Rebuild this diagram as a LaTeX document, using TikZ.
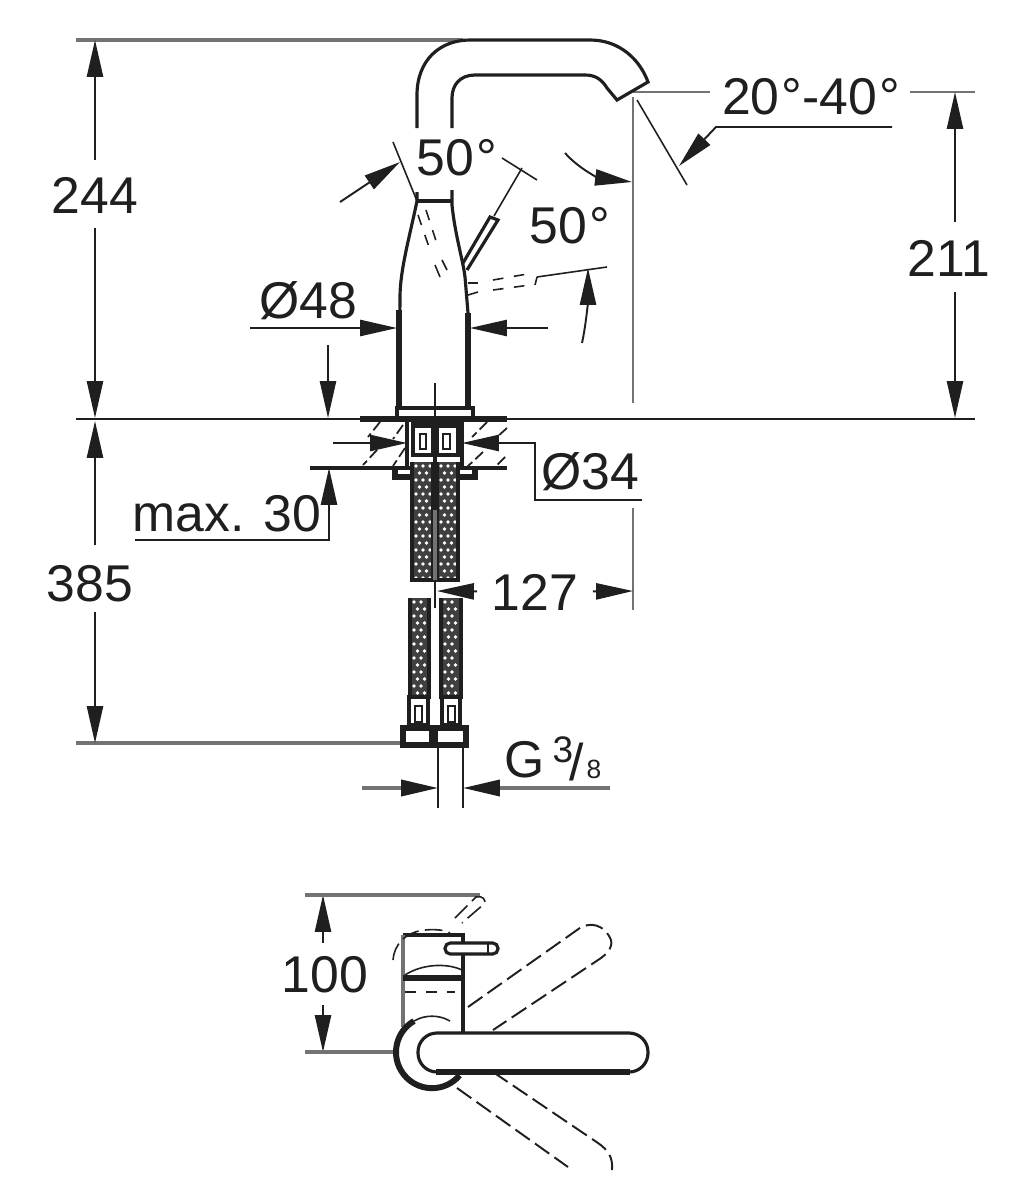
\documentclass[tikz,border=0pt]{standalone}
\usepackage{fontspec}
\setmainfont{Liberation Sans}
\usetikzlibrary{arrows.meta,calc}
\definecolor{inkdark}{gray}{0.12}
\definecolor{dimgray}{gray}{0.45}
\tikzset{
  dimtext/.style={inner sep=4pt,text=inkdark,font=\fontsize{14.7}{18}\selectfont},
  dimline/.style={line width=0.55pt,dimgray},
  dimarrow/.style={line width=0.55pt,inkdark,-{Stealth[inset=0pt,length=10.5pt,width=4.6pt,inkdark]}},
  outline/.style={line width=0.9pt,inkdark},
  thickline/.style={line width=1.5pt,inkdark},
  thinline/.style={line width=0.45pt,inkdark},
  ghost/.style={line width=0.55pt,inkdark,dash pattern=on 5pt off 1.8pt},
  hatch/.style={line width=0.5pt,inkdark,dash pattern=on 3pt off 1.2pt}
}
\newcommand{\degsign}{\kern0.6pt°}
% braided hose: dark strip with rows of white dots
\newcommand{\hosebraid}[4]{%
  \fill[inkdark!85] (#1,#2) rectangle (#3,#4);
  \pgfmathsetmacro{\hosewidth}{#3-#1}
  \pgfmathtruncatemacro{\hoserows}{(#4-#2-5)/7}
  \pgfmathtruncatemacro{\hosecols}{(\hosewidth-7)/7}
  \foreach \r in {0,...,\hoserows}{
    \foreach \c in {0,...,\hosecols}{
      \pgfmathsetmacro{\dotx}{#1+4+\c*7+mod(\r,2)*3.5}
      \pgfmathsetmacro{\doty}{#2+4+\r*7}
      \fill[white] (\dotx,\doty) circle (1.9);
    }
  }
  \draw[outline] (#1,#2)--(#1,#4)--(#3,#4)--(#3,#2);
}
\begin{document}
\begin{tikzpicture}[x=0.01cm,y=-0.01cm]
  \useasboundingbox (0,0) rectangle (1031,1200);

  % labels
  \node[dimtext] (t244) at (95,195) {244};
  \node[dimtext] (t385) at (90,584) {385};
  \node[dimtext] (t211) at (949,258) {211};
  \node[dimtext] (t127) at (535,592) {127};
  \node[dimtext] (t100) at (325,975) {100};
  \node[dimtext] (tD48) at (308,301) {Ø48};
  \node[dimtext] (tD34) at (590,472) {Ø34};
  \node[dimtext] (tmax) at (227,514) {max. 30};
  \node[dimtext] (tA) at (457,158) {50\degsign};
  \node[dimtext] (tB) at (570,226) {50\degsign};
  \node[dimtext] (tC) at (811,97) {20\degsign-40\degsign};
  \node[dimtext] (tG) at (525,760) {G};
  \node[dimtext,font=\fontsize{10.5}{12}\selectfont] (tGa) at (563,750) {3};
  \node[dimtext] (tGb) at (577,762) {/};
  \node[dimtext,font=\fontsize{7.5}{9}\selectfont] (tGc) at (594,769) {8};

  % floor and reference lines
  \draw[outline,line width=0.6pt] (76,419)--(975,419);
  \draw[thickline] (360,419)--(507,419);
  \draw[dimline,line width=0.9pt] (76,40)--(463,40);
  \draw[dimline,line width=0.9pt] (76,743)--(403,743);
  \draw[dimline] (633,92)--(710,92);
  \draw[dimline] (910,92)--(975,92);
  \draw[dimline,line width=0.8pt] (633,97)--(633,403);
  \draw[dimline,line width=0.8pt] (633,508)--(633,610);

  % spout
  \draw[outline] (417,128)--(417,95) .. controls (417,60) and (440,40) .. (470,40)
    --(590,40) .. controls (620,40) and (640,60) .. (648,82)--(617,100)--(607,88)
    .. controls (602,80) and (596,75) .. (585,75)--(475,75)
    .. controls (460,75) and (452,85) .. (452,98)--(452,128);

  % body
  \draw[outline] (417,201)--(452,201);
  \draw[outline] (417,192)--(417,201) .. controls (410,235) and (400,270) .. (400,297)--(399,408);
  \draw[outline] (452,190)--(452,205) .. controls (455,235) and (463,260) .. (465,277)--(468,313);
  \draw[thickline] (399,310)--(399,408);
  \draw[thickline] (468,313)--(468,408);
  \draw[outline,line width=1.2pt] (397,418)--(397,408)--(473,408)--(473,418);
  \draw[thinline] (435,383)--(435,608);

  % lever
  \draw[outline] (463,263)--(490,217)--(498,220)--(467,270);
  \draw[thinline] (417,201)--(393,142);
  \draw[thinline] (494,216)--(522,168);
  \draw[thinline] (502,158)--(537,180);
  \draw[thinline,dashed] (418,215)--(430,250);
  \draw[thinline,dashed] (426,210)--(438,247);
  \draw[thinline] (435,265)--(440,277);
  \draw[thinline] (442,260)--(447,270);
  \draw[thinline] (468,283)--(478,283);
  \draw[thinline] (468,295)--(478,292);
  \draw[thinline,dashed] (493,280)--(533,273);
  \draw[thinline,dashed] (493,290)--(530,285);
  \draw[thinline] (537,277)--(535,285);
  \draw[thinline] (537,277)--(607,267);

  % angle arrows
  \draw[dimarrow] (340,202)--(400,162);
  \draw[dimarrow] (565,153) .. controls (580,170) and (600,178) .. (632,182);
  \draw[dimarrow] (582,343) .. controls (586,325) and (588,300) .. (588,268);
  \draw[thinline] (637,100)--(687,185);
  \draw[dimarrow] (892,127)--(716,127)--(679,166);

  % dimension arrows
  \draw[dimarrow] (95,160)--(95,40);
  \draw[dimarrow] (95,228)--(95,418);
  \draw[dimarrow] (95,545)--(95,421);
  \draw[dimarrow] (95,612)--(95,743);
  \draw[dimarrow] (955,222)--(955,92);
  \draw[dimarrow] (955,292)--(955,418);
  \draw[dimarrow] (t127)--(437,591);
  \draw[dimarrow] (t127)--(633,591);
  \draw[dimarrow] (323,943)--(323,895);
  \draw[dimarrow] (323,1005)--(323,1052);
  \draw[dimarrow] (250,328)--(397,328);
  \draw[dimarrow] (548,328)--(470,328);
  \draw[dimarrow] (328,345)--(328,418);
  \draw[dimarrow] (135,540)--(329,540)--(329,468);
  \draw[dimarrow] (333,443)--(407,443);
  \draw[dimarrow] (642,500)--(535,500)--(535,443)--(462,443);
  \draw[dimarrow,dimgray,line width=0.9pt] (362,788)--(438,788);
  \draw[dimarrow,dimgray,line width=0.9pt] (610,788)--(463,788);

  % counter top
  \draw[outline] (310,468)--(507,468);
  \foreach \ax/\ay/\bx/\by in {380/422/368/437,403/425/393/439,377/450/363/465,405/448/393/466,
      487/422/472/437,507/428/497/437,483/452/467/467,505/457/497/465}
    \draw[hatch] (\ax,\ay)--(\bx,\by);
  \draw[outline] (407,420)--(407,467);
  \draw[outline] (462,420)--(462,467);
  \draw[thickline] (395,468)--(395,477)--(475,477)--(475,468);

  % inlet fittings
  \fill[inkdark] (433,421) rectangle (437,510);
  \draw[outline] (413,424) rectangle (433,455);
  \draw[outline] (437,424) rectangle (458,455);
  \fill[inkdark] (413,424) rectangle (433,428);
  \fill[inkdark] (437,424) rectangle (458,428);
  \draw[thinline] (420,434) rectangle (426,449);
  \draw[thinline] (443,434) rectangle (450,449);

  % hoses
  \hosebraid{412}{462}{433}{580}
  \hosebraid{437}{462}{458}{580}
  \hosebraid{410}{598}{429}{697}
  \hosebraid{441}{598}{461}{697}
  \fill[inkdark] (433,462) rectangle (437,510);
  \fill[dimgray] (433,510) rectangle (437,580);

  % hose ends and nuts
  \draw[outline] (409,697) rectangle (428,725);
  \draw[outline] (442,697) rectangle (460,725);
  \draw[thinline] (415,706) rectangle (422,722);
  \draw[thinline] (448,706) rectangle (455,722);
  \draw[thickline] (403,728) rectangle (432,745);
  \draw[thickline] (435,728) rectangle (466,745);
  \draw[thinline] (438,745)--(438,808);
  \draw[thinline] (463,745)--(463,808);

  % plan view
  \draw[dimline,line width=0.9pt] (305,895)--(480,895);
  \draw[dimline,line width=0.9pt] (305,1052)--(397,1052);
  \draw[outline] (403,935)--(463,935)--(463,1033);
  \draw[outline,line width=1.2pt,dimgray] (403,935)--(403,1027);
  \draw[thickline] (403,978)--(463,978);
  \draw[thinline] (405,975) .. controls (420,965) and (445,962) .. (462,970);
  \draw[thinline,dashed] (405,992)--(455,992);
  \draw[outline,fill=white,rounded corners=1.5pt] (445,943) rectangle (498,954);
  \draw[thinline] (488,943)--(488,954);
  \draw[ghost,line width=0.45pt] (393,960) .. controls (394,945) and (405,932) .. (425,930) .. controls (435,929) and (445,930) .. (450,933);
  \draw[ghost,line width=0.45pt] (455,918)--(476,897) .. controls (482,895) and (487,900) .. (484,904)--(462,923);
  \draw[ghost] (468,1007)--(577,930) .. controls (590,920) and (605,925) .. (611,940) .. controls (613,948) and (606,955) .. (598,960)--(493,1030);
  \draw[ghost] (493,1072)--(598,1143) .. controls (608,1150) and (613,1157) .. (612,1170);
  \draw[ghost] (457,1088)--(568,1167);
  % ring round the spindle, angles run clockwise on the page
  \draw[thinline] (450,1021) arc (-60:-120:36);
  \draw[line width=1.7pt,inkdark] (414,1021) arc (-120:-320:36);
  \draw[outline,fill=white,rounded corners=5.4pt] (418,1033) rectangle (648,1072);
  \draw[thickline] (436,1072)--(630,1072);
\end{tikzpicture}
\end{document}
